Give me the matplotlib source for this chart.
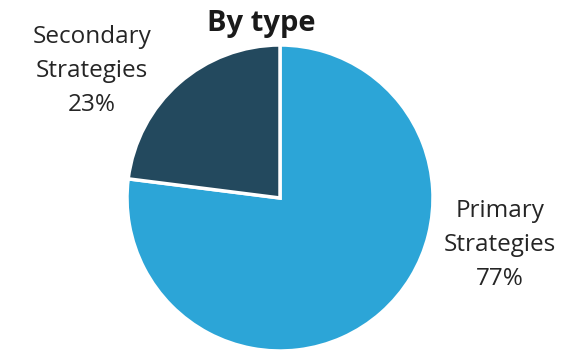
import matplotlib
matplotlib.use("Agg")
import matplotlib.pyplot as plt

plt.rcParams['font.family'] = ['Open Sans', 'DejaVu Sans']

categories = ["Primary\nStrategies", "Secondary\nStrategies"]
values = [77, 23]
colors = ["#2CA5D7", "#23495E"]
title = "By type"

W, H = 582, 351
fig = plt.figure(figsize=(W / 100, H / 100), dpi=100)
cx, cy, r = 280, 198, 153
ax = fig.add_axes([(cx - r) / W, (H - cy - r) / H, 2 * r / W, 2 * r / H])
wedges, _ = ax.pie(values, colors=colors, startangle=90, counterclock=False,
                   radius=1, wedgeprops=dict(edgecolor="white", linewidth=2.5))
ax.set_xlim(-1.0, 1.0)
ax.set_ylim(-1.0, 1.0)
ax.set_aspect("equal")
ax.axis("off")

fig.text(261 / W, 1 - 23 / H, title, ha="center", va="center",
         fontsize=21, fontweight="bold", color="#1a1a1a")

label_pos = [(500, 245), (92, 71)]
for cat, v, (lx, ly) in zip(categories, values, label_pos):
    fig.text(lx / W, 1 - ly / H, f"{cat}\n{v}%", ha="center", va="center",
             fontsize=17.5, color="#252525", linespacing=1.55)

fig.savefig("out.png", dpi=100)
